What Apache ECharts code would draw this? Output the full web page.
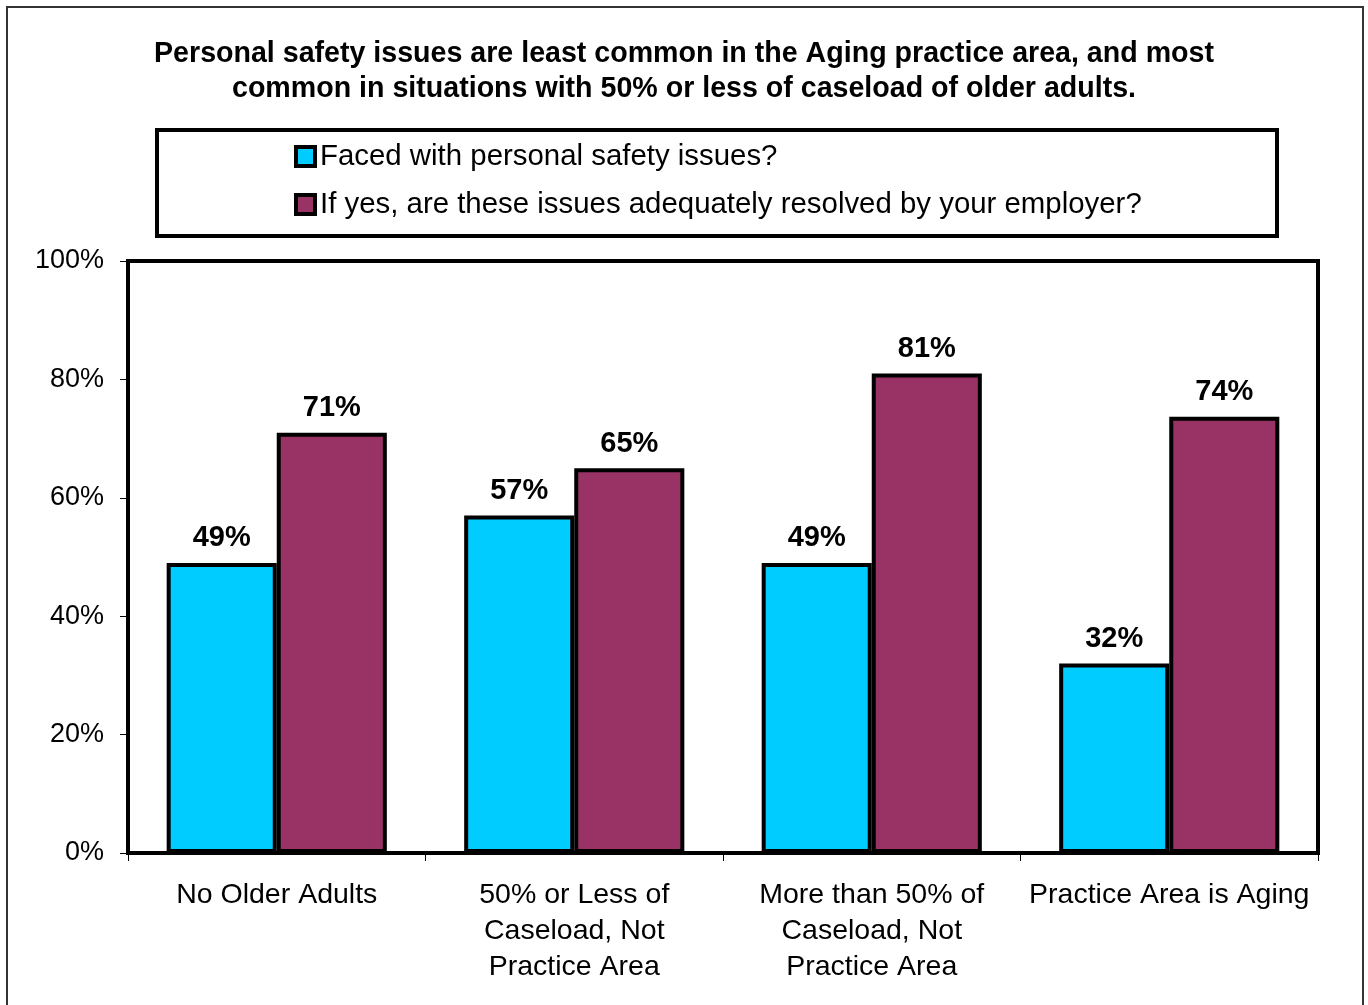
<!DOCTYPE html>
<html><head><meta charset="utf-8">
<script src="https://cdn.jsdelivr.net/npm/echarts@6/dist/echarts.min.js"></script>
<style>html,body{margin:0;padding:0;background:#fff}#c{width:1368px;height:1005px}</style>
</head><body><div id="c"></div>
<script>
const titleText = 'Personal safety issues are least common in the Aging practice area, and most\ncommon in situations with 50% or less of caseload of older adults.';
const categories = ['No Older Adults', '50% or Less of\nCaseload, Not\nPractice Area', 'More than 50% of\nCaseload, Not\nPractice Area', 'Practice Area is Aging'];
const seriesNames = ['Faced with personal safety issues?', 'If yes, are these issues adequately resolved by your employer?'];
const faced = [49, 57, 49, 32];
const resolved = [71, 65, 81, 73.7];
const yTicks = [0, 20, 40, 60, 80, 100];

const chart = echarts.init(document.getElementById('c'), null, {renderer: 'canvas'});
const font = 'Arial, "Liberation Sans", sans-serif';
const colors = ['#00CCFF', '#993366'];
chart.setOption({
  animation: false,
  textStyle: {fontFamily: font},
  title: {
    text: titleText, left: 'center', top: 32,
    textStyle: {fontFamily: font, fontSize: 28.6, fontWeight: 'bold', color: '#000', lineHeight: 35}
  },
  graphic: [
    {type: 'rect', shape: {x: 7, y: 7, width: 1356, height: 1010}, style: {fill: 'none', stroke: '#333', lineWidth: 2}, silent: true, z: -1},
    {type: 'rect', shape: {x: 157, y: 130, width: 1120, height: 106}, style: {fill: 'none', stroke: '#000', lineWidth: 4}, silent: true}
  ],
  legend: {
    orient: 'vertical', left: 294, top: 142, itemGap: 19, padding: 0,
    itemWidth: 19, itemHeight: 19, icon: 'rect',
    data: seriesNames,
    textStyle: {fontFamily: font, fontSize: 29.4, lineHeight: 29, color: '#000'},
    itemStyle: {borderColor: '#000', borderWidth: 4}
  },
  grid: {left: 128, right: 50, top: 261, bottom: 152, show: true, borderColor: '#000', borderWidth: 4, backgroundColor: 'transparent'},
  xAxis: {
    type: 'category', data: categories,
    axisLine: {show: true, lineStyle: {color: '#000', width: 4}},
    axisTick: {show: true, length: 8, lineStyle: {color: '#000', width: 1}},
    axisLabel: {fontFamily: font, fontSize: 28.5, color: '#000', margin: 24, lineHeight: 36, interval: 0}
  },
  yAxis: {
    type: 'value', min: 0, max: 100, interval: 20,
    axisLine: {show: true, lineStyle: {color: '#000', width: 4}},
    axisTick: {show: true, length: 8, lineStyle: {color: '#000', width: 1}},
    splitLine: {show: false},
    axisLabel: {fontFamily: font, fontSize: 27, color: '#000', margin: 24, formatter: v => v + '%'}
  },
  series: [
    {name: seriesNames[0], type: 'bar', data: faced, barGap: '0%', barCategoryGap: '26%',
     itemStyle: {color: colors[0], borderColor: '#000', borderWidth: 4},
     label: {show: true, position: 'top', distance: 10, formatter: p => Math.round(p.value) + '%', fontFamily: font, fontSize: 29, fontWeight: 'bold', color: '#000'}},
    {name: seriesNames[1], type: 'bar', data: resolved, barGap: '0%', barCategoryGap: '26%',
     itemStyle: {color: colors[1], borderColor: '#000', borderWidth: 4},
     label: {show: true, position: 'top', distance: 10, formatter: p => Math.round(p.value) + '%', fontFamily: font, fontSize: 29, fontWeight: 'bold', color: '#000'}}
  ]
});
</script></body></html>
